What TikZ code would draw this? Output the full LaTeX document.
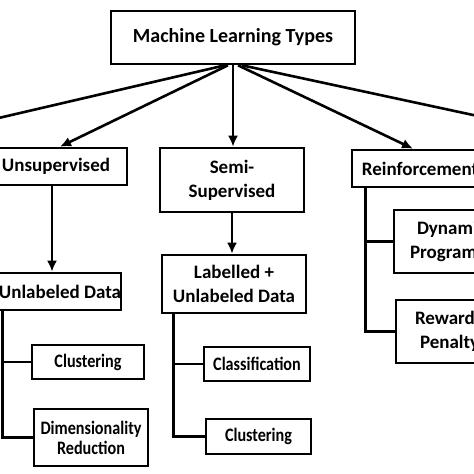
\documentclass[tikz,border=0pt]{standalone}
\usepackage{fontspec}
\setmainfont{Carlito}
\usetikzlibrary{arrows.meta}
\tikzset{
  box/.style={draw, rectangle, line width=2.6pt, inner sep=0pt, align=center,
    font=\bfseries\fontsize{19}{24}\selectfont},
  leaf/.style={box, font=\bfseries\addfontfeature{FakeStretch=0.85}\fontsize{19}{20}\selectfont},
  arr/.style={line width=2.6pt, -{Latex[length=11pt,width=10pt]}},
  lnk/.style={line width=2.6pt}
}
\begin{document}
\begin{tikzpicture}[x=1pt,y=-1pt]
\useasboundingbox (0,0) rectangle (474,474);
\fill[white] (0,0) rectangle (474,474);
\clip (0,0) rectangle (474,474);
%% Nodes
\node[box, minimum width=244pt, minimum height=53pt, font=\bfseries\fontsize{20}{24}\selectfont](top) at (233,37.5) {Machine Learning Types};
\node[box, minimum width=142pt, minimum height=37pt](unsup) at (56,166.5) {Unsupervised};
\node[box, minimum width=120pt, minimum height=37pt](unlab) at (60,291.5) {Unlabeled Data};
\node[leaf, minimum width=112pt, minimum height=34pt](clus1) at (88,362) {Clustering};
\node[leaf, minimum width=114pt, minimum height=57pt](dimred) at (91,437.5) {Dimensionality\\Reduction};
\node[box, minimum width=144pt, minimum height=64pt](semi) at (232,180) {Semi-\\Supervised};
\node[box, minimum width=144pt, minimum height=58pt](lab) at (234,284) {Labelled +\\Unlabeled Data};
\node[leaf, minimum width=106pt, minimum height=34pt](classif) at (257,364) {Classification};
\node[leaf, minimum width=105pt, minimum height=35pt](clus2) at (258.5,436.5) {Clustering};
\node[box, minimum width=136pt, minimum height=37pt](reinf) at (420,168.5) {Reinforcement};
\node[box, minimum width=122pt, minimum height=63pt, text width=90pt, align=left](dynprog) at (455,241.5) {\hspace*{7pt}Dynamic\\Programming};
\node[box, minimum width=118pt, minimum height=63pt, text width=80pt, align=left](reward) at (455,331.5) {Reward\\\hspace*{5pt}Penalty};
\coordinate (supv) at (-40,127);
\coordinate (other) at (515,124);
%% Lines
\draw[arr] ([xshift=-8pt]top.south) -- (supv);
\draw[arr] ([xshift=-5pt]top.south) -- ([xshift=4pt]unsup.north);
\draw[arr] (top.south) -- (top.south |- semi.north);
\draw[arr] ([xshift=5pt]top.south) -- ([xshift=-7pt]reinf.north);
\draw[arr] ([xshift=9pt]top.south) -- (other);
\draw[arr] ([xshift=-4pt]unsup.south) -- ([xshift=-4pt]unsup.south |- unlab.north);
\draw[arr] (semi.south) -- (semi.south |- lab.north);
\draw[lnk] ([xshift=5pt]unlab.south west) |- (clus1.west);
\draw[lnk] ([xshift=5pt]unlab.south west) |- (dimred.west);
\draw[lnk] ([xshift=13pt]lab.south west) |- (classif.west);
\draw[lnk] ([xshift=13pt]lab.south west) |- (clus2.west);
\draw[lnk] ([xshift=15pt]reinf.south west) |- (dynprog.west);
\draw[lnk] ([xshift=15pt]reinf.south west) |- (reward.west);
\end{tikzpicture}
\end{document}
